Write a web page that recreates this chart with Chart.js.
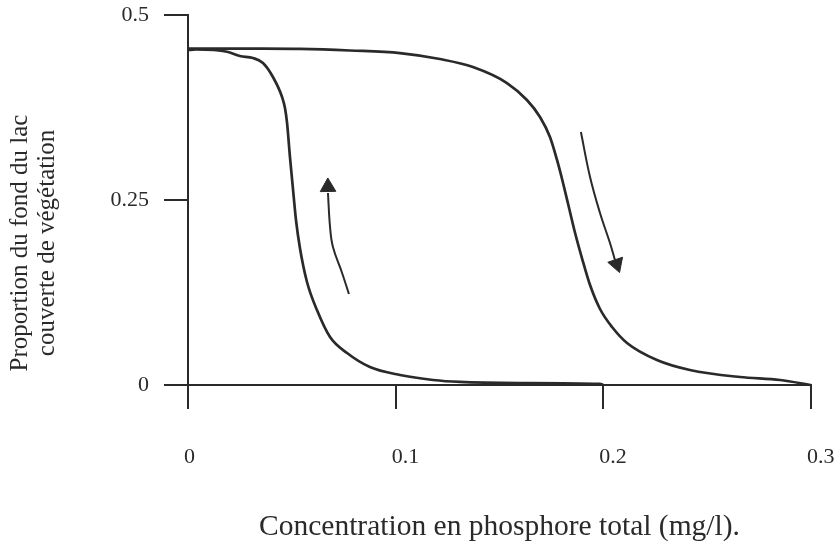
<!DOCTYPE html>
<html>
<head>
<meta charset="utf-8">
<script src="https://cdn.jsdelivr.net/npm/chart.js@4"></script>
<style>
  html, body { margin: 0; padding: 0; background: #fff; }
</style>
</head>
<body>
<canvas id="chart" width="838" height="545"></canvas>
<script>
// Hysteresis curve: vegetation cover vs total phosphorus
// Upper branch (phosphorus increasing, collapse near 0.18 mg/l)
const upperX = [0, 0.0299, 0.0539, 0.0780, 0.1021, 0.1213, 0.1372, 0.1536, 0.1632, 0.1695, 0.1743, 0.1777, 0.1806, 0.1835, 0.1864, 0.1897, 0.1936, 0.1984, 0.2042, 0.2114, 0.2258, 0.2417, 0.2658, 0.2851, 0.300];
const upperY = [0.4547, 0.4545, 0.4541, 0.4520, 0.4486, 0.4405, 0.4297, 0.4081, 0.3851, 0.3622, 0.3351, 0.3041, 0.2730, 0.2392, 0.2054, 0.1716, 0.1351, 0.1027, 0.0784, 0.0568, 0.0338, 0.0203, 0.0108, 0.0068, 0];

// Lower branch (phosphorus decreasing, recovery near 0.05 mg/l)
const lowerX = [0, 0.0039, 0.0188, 0.0250, 0.0313, 0.0361, 0.0409, 0.0453, 0.0467, 0.0477, 0.0491, 0.0506, 0.0520, 0.0539, 0.0573, 0.0621, 0.0684, 0.0766, 0.0876, 0.1021, 0.1180, 0.1310, 0.1599, 0.1984, 0.200];
const lowerY = [0.4527, 0.4534, 0.4504, 0.4446, 0.4419, 0.4351, 0.4162, 0.3892, 0.3743, 0.3541, 0.3081, 0.2635, 0.2230, 0.1851, 0.1392, 0.1014, 0.0649, 0.0432, 0.0243, 0.0135, 0.0068, 0.0041, 0.0027, 0.0014, 0];

// Arrows (shaft points + head position)
const arrowUpX = [0.0674, 0.0684, 0.0698, 0.0742, 0.0775];
const arrowUpY = [0.2595, 0.2135, 0.1865, 0.1514, 0.1230];
const arrowUpHead = { x: 0.0674, y: 0.2676, rotation: -1 };

const arrowDownX = [0.1892, 0.1936, 0.1984, 0.2032, 0.2056];
const arrowDownY = [0.3419, 0.2811, 0.2324, 0.1919, 0.1689];
const arrowDownHead = { x: 0.2064, y: 0.1635, rotation: 161 };

// Axes
const xTicks = [0, 0.1, 0.2, 0.3];
const xTickLabels = ["0", "0.1", "0.2", "0.3"];
const yTicks = [0, 0.25, 0.5];
const yTickLabels = ["0", "0.25", "0.5"];
const xTitle = "Concentration en phosphore total (mg/l).";
const yTitleLines = ["Proportion du fond du lac", "couverte de végétation"];

const ink = "#2a2a2a";
const serif = "'Liberation Serif', 'Times New Roman', serif";

function toPoints(xs, ys) {
  return xs.map((x, i) => ({ x: x, y: ys[i] }));
}

// y-axis title drawn as two rotated lines, centred lower than the plot area
const yTitlePlugin = {
  id: "yTitle",
  afterDraw(chart) {
    const ctx = chart.ctx;
    const lineX = [20, 47];
    ctx.save();
    ctx.font = "25px " + serif;
    ctx.fillStyle = ink;
    ctx.textAlign = "center";
    ctx.textBaseline = "middle";
    yTitleLines.forEach((line, i) => {
      ctx.save();
      ctx.translate(lineX[i], 243);
      ctx.rotate(-Math.PI / 2);
      ctx.fillText(line, 0, 0);
      ctx.restore();
    });
    ctx.restore();
  }
};

const curveStyle = {
  borderColor: ink,
  borderWidth: 2.7,
  pointRadius: 0,
  cubicInterpolationMode: "monotone",
  fill: false,
  clip: false
};
const shaftStyle = {
  borderColor: ink,
  borderWidth: 2,
  pointRadius: 0,
  tension: 0.4,
  fill: false,
  clip: false
};
const headStyle = {
  showLine: false,
  pointStyle: "triangle",
  pointRadius: 9,
  backgroundColor: ink,
  borderColor: ink,
  borderWidth: 1,
  clip: false
};

new Chart(document.getElementById("chart"), {
  type: "line",
  data: {
    datasets: [
      Object.assign({ label: "upper", data: toPoints(upperX, upperY) }, curveStyle),
      Object.assign({ label: "lower", data: toPoints(lowerX, lowerY) }, curveStyle),
      Object.assign({ label: "arrowUp", data: toPoints(arrowUpX, arrowUpY) }, shaftStyle),
      Object.assign({ label: "arrowDown", data: toPoints(arrowDownX, arrowDownY) }, shaftStyle),
      Object.assign({ label: "headUp", data: [{ x: arrowUpHead.x, y: arrowUpHead.y }], pointRotation: arrowUpHead.rotation }, headStyle),
      Object.assign({ label: "headDown", data: [{ x: arrowDownHead.x, y: arrowDownHead.y }], pointRotation: arrowDownHead.rotation }, headStyle)
    ]
  },
  options: {
    responsive: false,
    animation: false,
    events: [],
    layout: { padding: { top: 15, right: 27, left: 0, bottom: 0 } },
    plugins: {
      legend: { display: false },
      tooltip: { enabled: false }
    },
    scales: {
      x: {
        type: "linear",
        min: 0,
        max: 0.3,
        afterFit: (scale) => {
          scale.height = 160;
          scale.paddingLeft = 0;
          scale.paddingRight = 0;
        },
        afterBuildTicks: (scale) => { scale.ticks = xTicks.map(v => ({ value: v })); },
        border: { display: true, color: ink, width: 2 },
        grid: { display: true, drawOnChartArea: false, drawTicks: true, tickLength: 24, color: ink, lineWidth: 2 },
        ticks: {
          padding: 35,
          align: "start",
          labelOffset: -4,
          color: ink,
          font: { family: serif, size: 22 },
          maxRotation: 0,
          callback: (v) => xTickLabels[xTicks.indexOf(v)]
        },
        title: {
          display: true,
          text: xTitle,
          color: ink,
          font: { family: serif, size: 29.5 },
          padding: { top: 0, bottom: 0 }
        }
      },
      y: {
        type: "linear",
        min: 0,
        max: 0.5,
        afterFit: (scale) => {
          scale.width = 188;
          scale.paddingTop = 0;
          scale.paddingBottom = 0;
        },
        afterBuildTicks: (scale) => { scale.ticks = yTicks.map(v => ({ value: v })); },
        border: { display: true, color: ink, width: 2 },
        grid: { display: true, drawOnChartArea: false, drawTicks: true, tickLength: 24, color: ink, lineWidth: 2 },
        ticks: {
          padding: 15,
          color: ink,
          font: { family: serif, size: 22 },
          callback: (v) => yTickLabels[yTicks.indexOf(v)]
        }
      }
    }
  },
  plugins: [yTitlePlugin]
});
</script>
</body>
</html>
